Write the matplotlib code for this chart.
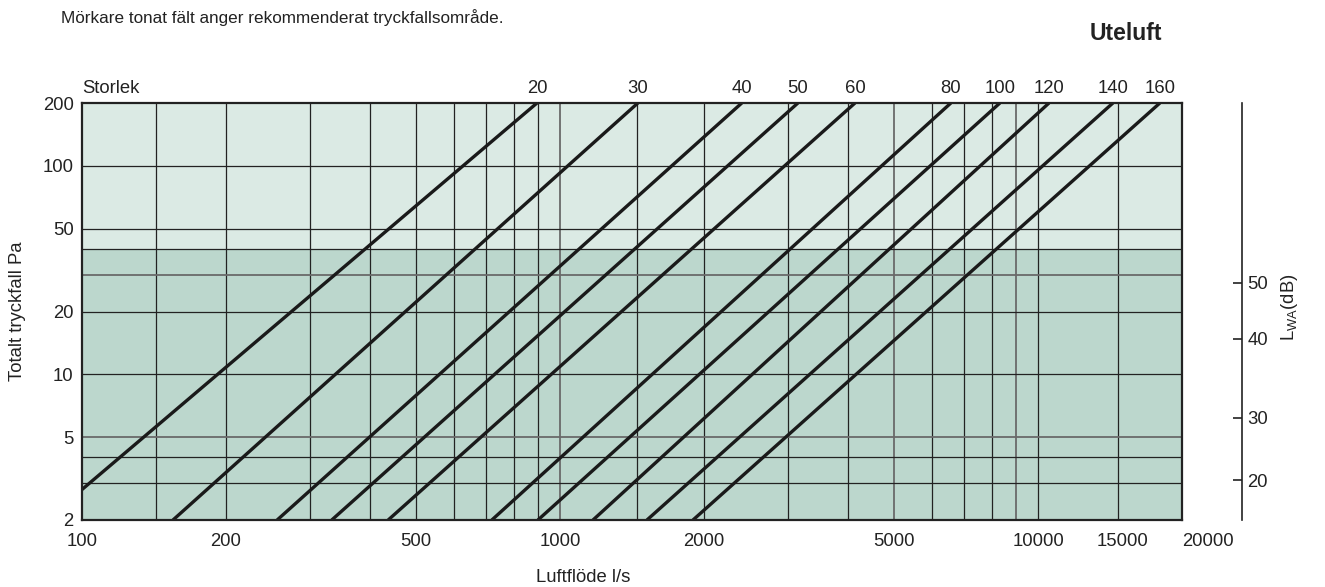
import numpy as np
import matplotlib.pyplot as plt
from matplotlib.ticker import NullLocator

plt.rcParams['font.family'] = ['Liberation Sans', 'DejaVu Sans']
plt.rcParams['mathtext.fontset'] = 'custom'
plt.rcParams['mathtext.rm'] = 'Liberation Sans'

# storlekar och deras linjer (luftflöde l/s vid 200 Pa, och nedre punkt)
sizes = [20, 30, 40, 50, 60, 80, 100, 120, 140, 160]
flow_top = [895, 1455, 2400, 3145, 4140, 6570, 8320, 10540, 14340, 17980]
flow_low = [100, 155, 256, 333, 437, 720, 899, 1172, 1520, 1897]
dp_low = [2.8, 2, 2, 2, 2, 2, 2, 2, 2, 2]
dp_top = 200

# rutnät
x_grid = [143, 200, 300, 400, 500, 600, 700, 800, 900, 1000, 1450, 2000,
          3000, 4000, 5000, 6000, 7000, 8000, 9000, 10000, 14700]
x_grid_gray = [1000, 5000, 9000]
y_grid = [3, 4, 5, 10, 20, 30, 40, 50, 100]
y_grid_gray = [5, 30]
dp_recommended = 40

x_ticks = [100, 200, 500, 1000, 2000, 5000, 10000, 15000, 20000]
y_ticks = [2, 5, 10, 20, 50, 100, 200]

# ljudeffektsskala (dB) och motsvarande tryckfall
lwa_ticks = [20, 30, 40, 50]
lwa_dp = [3.1, 6.2, 14.8, 27.4]

light = '#dbeae4'
dark = '#bcd7cd'
ink = '#222222'
fs = 13.3

W, H = 1325, 587
fig = plt.figure(figsize=(W / 100, H / 100), dpi=100)
ax = fig.add_axes([82 / W, 1 - 520 / H, 1100 / W, 417 / H])
ax.set_xscale('log')
ax.set_yscale('log')
ax.set_xlim(100, 20000)
ax.set_ylim(2, 200)
ax.set_facecolor(light)
ax.axhspan(2, dp_recommended, color=dark, lw=0, zorder=0)

for x in x_grid:
    gray = x in x_grid_gray
    ax.axvline(x, color='#6a6a6a' if gray else ink, lw=1.3 if gray else 0.9, zorder=1)
for y in y_grid:
    gray = y in y_grid_gray
    ax.axhline(y, color='#6a6a6a' if gray else ink, lw=1.3 if gray else 0.9, zorder=1)

for s, qt, ql, pl in zip(sizes, flow_top, flow_low, dp_low):
    ax.plot([ql, qt], [pl, dp_top], color='#1a1a1a', lw=2.4,
            solid_capstyle='butt', zorder=3)
    ax.annotate(str(s), xy=(qt, dp_top), xytext=(0, 7), textcoords='offset points',
                ha='center', va='baseline', fontsize=fs, color=ink)
ax.annotate('Storlek', xy=(100, dp_top), xytext=(0, 7), textcoords='offset points',
            ha='left', va='baseline', fontsize=fs, color=ink)

ax.set_xticks(x_ticks, [str(v) for v in x_ticks])
ax.set_yticks(y_ticks, [str(v) for v in y_ticks])
ax.xaxis.set_minor_locator(NullLocator())
ax.yaxis.set_minor_locator(NullLocator())
ax.tick_params(axis='x', length=0, pad=9, labelsize=fs, labelcolor=ink)
ax.tick_params(axis='y', length=0, pad=6, labelsize=fs, labelcolor=ink)
ax.get_xticklabels()[-1].set_ha('left')
for sp in ax.spines.values():
    sp.set_color(ink)
    sp.set_linewidth(1.6)
    sp.set_zorder(4)

# högeraxel L_WA
ax2 = ax.twinx()
ax2.set_yscale('log')
ax2.set_ylim(2, 200)
ax2.set_yticks(lwa_dp, [str(v) for v in lwa_ticks])
ax2.yaxis.set_minor_locator(NullLocator())
for k in ['left', 'top', 'bottom']:
    ax2.spines[k].set_visible(False)
ax2.spines['right'].set_position(('outward', 60 * 0.72))
ax2.spines['right'].set_color(ink)
ax2.spines['right'].set_linewidth(1.2)
ax2.tick_params(axis='y', direction='in', length=6.5, width=1.2, color=ink,
                pad=4, labelsize=fs, labelcolor=ink)
fig.text(1289 / W, 1 - 307 / H, r'L$_{\mathrm{WA}}$(dB)', rotation=90,
         ha='center', va='center', fontsize=fs, color=ink)

fig.text(536 / W, 1 - 578 / H, 'Luftflöde l/s', ha='left', va='center',
         fontsize=fs, color=ink)
fig.text(18 / W, 1 - 311 / H, 'Totalt tryckfall Pa', rotation=90,
         ha='center', va='center', fontsize=fs, color=ink)
fig.text(61 / W, 1 - 18 / H, 'Mörkare tonat fält anger rekommenderat tryckfallsområde.',
         ha='left', va='center', fontsize=12.3, color=ink)
fig.text(1162 / W, 1 - 33 / H, 'Uteluft', ha='right', va='center',
         fontsize=16.5, fontweight='bold', color=ink)

fig.savefig('out.png', dpi=100)
